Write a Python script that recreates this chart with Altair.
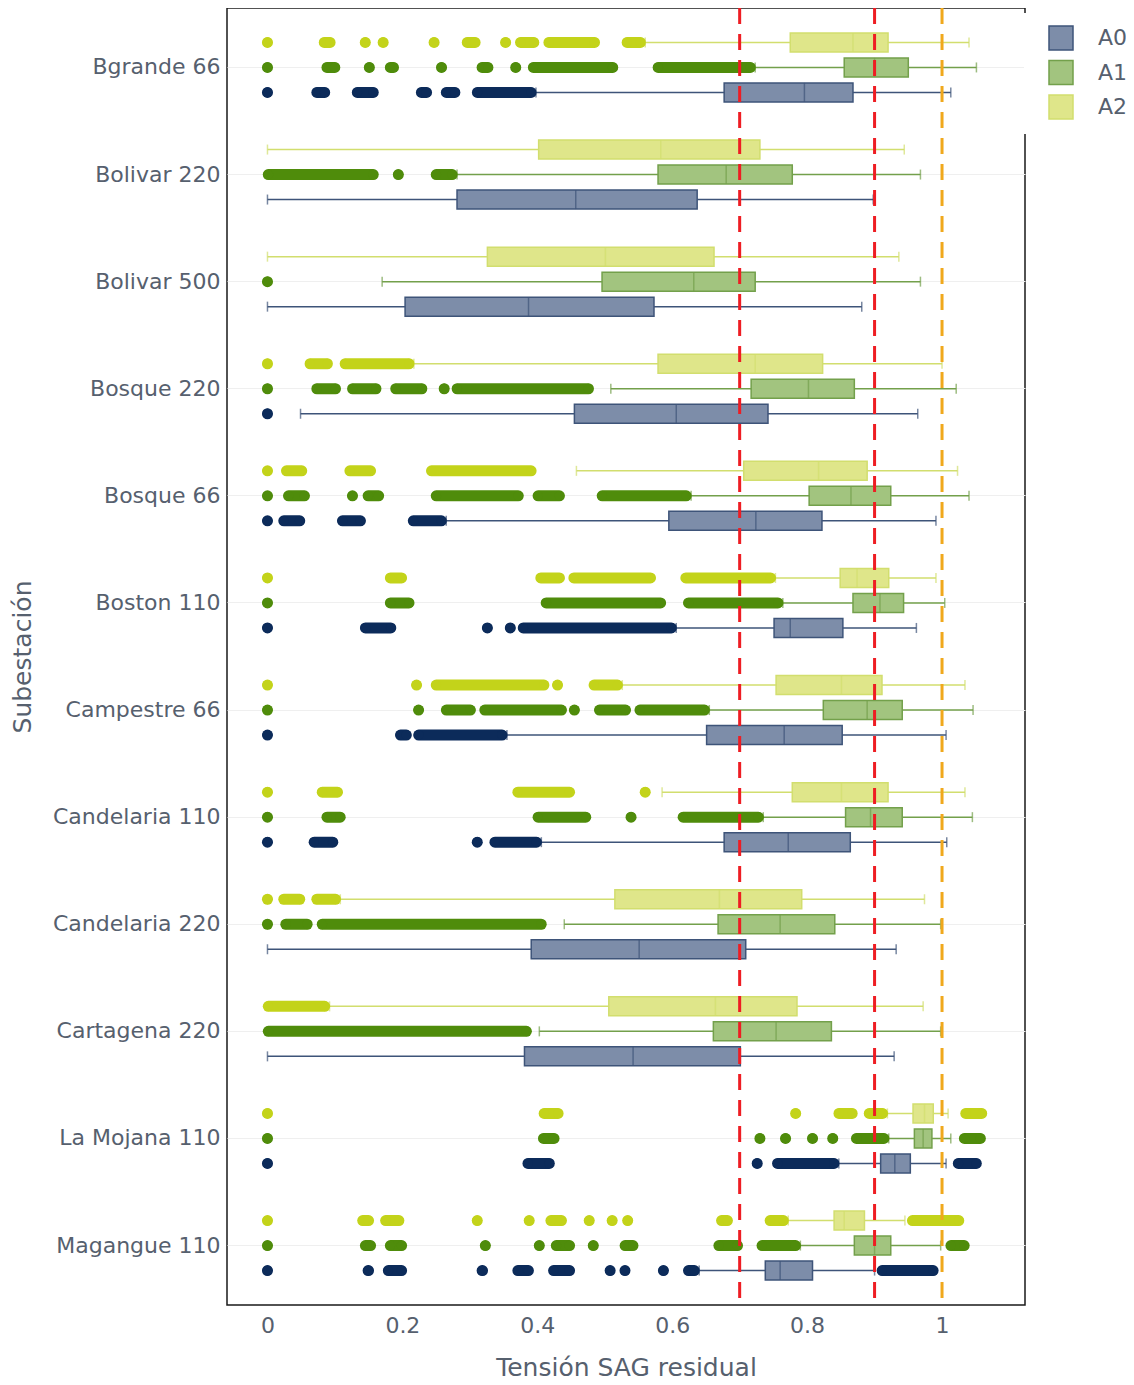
import altair as alt
import pandas as pd

SUBS = ["Bgrande 66", "Bolivar 220", "Bolivar 500", "Bosque 220", "Bosque 66",
        "Boston 110", "Campestre 66", "Candelaria 110", "Candelaria 220",
        "Cartagena 220", "La Mojana 110", "Magangue 110"]
SERIES = ["A0", "A1", "A2"]

# box statistics per substation (lower whisker, q1, median, q3, upper whisker)
A2_LO = [0.560, 0.000, 0.000, 0.217, 0.458, 0.753, 0.526, 0.585, 0.108, 0.092, 0.919, 0.772]
A2_Q1 = [0.775, 0.402, 0.326, 0.579, 0.706, 0.849, 0.754, 0.778, 0.515, 0.506, 0.957, 0.840]
A2_MED = [0.868, 0.583, 0.501, 0.723, 0.817, 0.874, 0.851, 0.851, 0.670, 0.664, 0.974, 0.855]
A2_Q3 = [0.920, 0.730, 0.662, 0.823, 0.889, 0.921, 0.911, 0.920, 0.792, 0.785, 0.987, 0.885]
A2_HI = [1.040, 0.944, 0.936, 1.000, 1.023, 0.991, 1.034, 1.034, 0.974, 0.972, 1.009, 0.945]

A1_LO = [0.723, 0.281, 0.170, 0.509, 0.628, 0.764, 0.655, 0.735, 0.440, 0.403, 0.921, 0.790]
A1_Q1 = [0.855, 0.579, 0.496, 0.717, 0.803, 0.868, 0.824, 0.857, 0.668, 0.661, 0.959, 0.870]
A1_MED = [0.900, 0.680, 0.632, 0.802, 0.865, 0.908, 0.889, 0.894, 0.760, 0.754, 0.972, 0.900]
A1_Q3 = [0.950, 0.778, 0.723, 0.870, 0.924, 0.943, 0.941, 0.941, 0.841, 0.836, 0.985, 0.924]
A1_HI = [1.051, 0.968, 0.968, 1.021, 1.040, 1.004, 1.046, 1.045, 0.998, 0.998, 1.013, 0.998]

A0_LO = [0.398, 0.000, 0.000, 0.049, 0.265, 0.606, 0.355, 0.406, 0.000, 0.000, 0.847, 0.640]
A0_Q1 = [0.677, 0.281, 0.204, 0.455, 0.595, 0.751, 0.651, 0.677, 0.391, 0.381, 0.909, 0.738]
A0_MED = [0.796, 0.457, 0.387, 0.606, 0.724, 0.775, 0.766, 0.772, 0.551, 0.542, 0.930, 0.760]
A0_Q3 = [0.868, 0.637, 0.573, 0.742, 0.822, 0.853, 0.852, 0.864, 0.709, 0.701, 0.953, 0.808]
A0_HI = [1.013, 0.898, 0.881, 0.964, 0.991, 0.962, 1.006, 1.007, 0.932, 0.929, 1.006, 0.900]

# outlier runs (first, last value of each run of overlapping points), per substation
A2_OUT = [
    [(0, 0), (0.077, 0.100), (0.145, 0.145), (0.165, 0.178), (0.247, 0.247), (0.289, 0.315),
     (0.353, 0.353), (0.368, 0.402), (0.410, 0.492), (0.526, 0.560)],
    [],
    [],
    [(0, 0), (0.056, 0.096), (0.108, 0.217)],
    [(0, 0), (0.021, 0.058), (0.115, 0.160), (0.236, 0.398)],
    [(0, 0), (0.175, 0.206), (0.398, 0.440), (0.447, 0.575), (0.613, 0.753)],
    [(0, 0), (0.221, 0.221), (0.243, 0.417), (0.430, 0.430), (0.477, 0.526)],
    [(0, 0), (0.074, 0.111), (0.364, 0.455), (0.560, 0.560)],
    [(0, 0), (0.017, 0.055), (0.066, 0.108)],
    [(-0.006, 0.092)],
    [(0, 0), (0.403, 0.438), (0.783, 0.783), (0.840, 0.874), (0.885, 0.919), (1.028, 1.066)],
    [(0, 0), (0.134, 0.157), (0.168, 0.202), (0.311, 0.311), (0.388, 0.388), (0.413, 0.443),
     (0.477, 0.477), (0.511, 0.511), (0.534, 0.534), (0.666, 0.689), (0.738, 0.772), (0.949, 1.032)],
]
A1_OUT = [
    [(0, 0), (0.081, 0.107), (0.151, 0.151), (0.175, 0.194), (0.258, 0.258), (0.311, 0.334),
     (0.368, 0.368), (0.387, 0.519), (0.572, 0.723)],
    [(-0.006, 0.164), (0.194, 0.194), (0.243, 0.281)],
    [(0, 0)],
    [(0, 0), (0.066, 0.108), (0.119, 0.168), (0.183, 0.236), (0.262, 0.262), (0.274, 0.483)],
    [(0, 0), (0.024, 0.062), (0.126, 0.126), (0.142, 0.172), (0.243, 0.379), (0.394, 0.440), (0.489, 0.628)],
    [(0, 0), (0.175, 0.217), (0.406, 0.590), (0.617, 0.764)],
    [(0, 0), (0.224, 0.224), (0.258, 0.308), (0.315, 0.443), (0.455, 0.455), (0.485, 0.538), (0.545, 0.655)],
    [(0, 0), (0.081, 0.115), (0.394, 0.479), (0.539, 0.539), (0.609, 0.735)],
    [(0, 0), (0.020, 0.066), (0.074, 0.413)],
    [(-0.006, 0.391)],
    [(0, 0), (0.402, 0.432), (0.730, 0.730), (0.768, 0.768), (0.808, 0.808), (0.838, 0.838),
     (0.866, 0.921), (1.026, 1.064)],
    [(0, 0), (0.138, 0.160), (0.175, 0.206), (0.323, 0.323), (0.403, 0.403), (0.421, 0.455),
     (0.483, 0.483), (0.523, 0.549), (0.662, 0.704), (0.726, 0.790), (1.006, 1.040)],
]
A0_OUT = [
    [(0, 0), (0.066, 0.092), (0.126, 0.164), (0.221, 0.243), (0.258, 0.285), (0.304, 0.398)],
    [],
    [],
    [(0, 0)],
    [(0, 0), (0.017, 0.055), (0.104, 0.145), (0.209, 0.265)],
    [(0, 0), (0.138, 0.190), (0.326, 0.326), (0.360, 0.360), (0.372, 0.606)],
    [(0, 0), (0.190, 0.213), (0.217, 0.355)],
    [(0, 0), (0.062, 0.104), (0.311, 0.311), (0.330, 0.406)],
    [],
    [],
    [(0, 0), (0.379, 0.425), (0.726, 0.726), (0.749, 0.847), (1.017, 1.058)],
    [(0, 0), (0.142, 0.157), (0.172, 0.206), (0.311, 0.326), (0.364, 0.394), (0.417, 0.455),
     (0.508, 0.508), (0.530, 0.530), (0.587, 0.587), (0.617, 0.640), (0.904, 0.994)],
]

REF_VALUES = [0.7, 0.9, 1.0]
REF_COLORS = ["#ee1d23", "#ee1d23", "#f0a81c"]
X_TICKS = [0, 0.2, 0.4, 0.6, 0.8, 1.0]

DOT = {"A0": "#0c2b5a", "A1": "#4f8c0b", "A2": "#c3d31a"}
FILL = {"A0": "#7d8da9", "A1": "#a2c47f", "A2": "#dfe68a"}
LINE = {"A0": "#3e5479", "A1": "#73a04b", "A2": "#d2de6e"}

STATS = {"A0": (A0_LO, A0_Q1, A0_MED, A0_Q3, A0_HI),
         "A1": (A1_LO, A1_Q1, A1_MED, A1_Q3, A1_HI),
         "A2": (A2_LO, A2_Q1, A2_MED, A2_Q3, A2_HI)}
OUTS = {"A0": A0_OUT, "A1": A1_OUT, "A2": A2_OUT}

rows = []
orows = []
R = 0.0072  # half a marker width in data units
for s in SERIES:
    lo, q1, med, q3, hi = STATS[s]
    for i, sub in enumerate(SUBS):
        rows.append(dict(sub=sub, series=s, lo=lo[i], q1=q1[i], med=med[i], q3=q3[i],
                         hi=hi[i], line=LINE[s]))
        for a, b in OUTS[s][i]:
            if b - a > 2 * R:
                c0, c1 = a + R, b - R
            else:
                c0 = c1 = (a + b) / 2
            orows.append(dict(sub=sub, series=s, c0=c0, c1=c1, dot=DOT[s]))
box_df = pd.DataFrame(rows)
out_df = pd.DataFrame(orows)
ref_df = pd.DataFrame({"v": REF_VALUES, "c": REF_COLORS})

FONT = "DejaVu Sans"
TXT = "#56606e"

x_scale = alt.Scale(domain=[-0.06, 1.123], nice=False, zero=False)
x_axis = alt.Axis(values=X_TICKS, format=".1~f", title="Tensión SAG residual", grid=False,
                  ticks=False, domain=False, labelFontSize=22, titleFontSize=25,
                  labelPadding=10, titlePadding=19, labelColor=TXT, titleColor=TXT,
                  labelFont=FONT, titleFont=FONT, titleFontWeight="normal")
y_axis = alt.Axis(title="Subestación", ticks=False, domain=False, labelFontSize=22,
                  titleFontSize=25, labelPadding=7, titlePadding=17, labelColor=TXT,
                  titleColor=TXT, labelFont=FONT, titleFont=FONT, titleFontWeight="normal",
                  grid=True, gridColor="#efefef", gridWidth=1, bandPosition=0.5)

Y = alt.Y("sub:N", sort=SUBS, scale=alt.Scale(paddingInner=0, paddingOuter=0.055), axis=y_axis)
YO = alt.YOffset("series:N", sort=["A2", "A1", "A0"],
                 scale=alt.Scale(domain=["A2", "A1", "A0"], paddingInner=0.24, paddingOuter=0.762))


def X(field):
    return alt.X(field, scale=x_scale, axis=x_axis)


whisker = alt.Chart(box_df).mark_rule(strokeWidth=1.5).encode(
    x=X("lo:Q"), x2="hi:Q", y=Y, yOffset=YO, color=alt.Color("line:N", scale=None))
cap_lo = alt.Chart(box_df).mark_tick(size=10, thickness=1.5).encode(
    x=X("lo:Q"), y=Y, yOffset=YO, color=alt.Color("line:N", scale=None))
cap_hi = alt.Chart(box_df).mark_tick(size=10, thickness=1.5).encode(
    x=X("hi:Q"), y=Y, yOffset=YO, color=alt.Color("line:N", scale=None))

legend = alt.Legend(title=None, orient="none", legendX=797, legendY=5, fillColor="white",
                    padding=12, symbolOffset=12, symbolType="square", symbolSize=576,
                    symbolStrokeWidth=1.5, labelFontSize=22, labelFont=FONT, labelColor=TXT,
                    rowPadding=4.5, labelOffset=24)
box = alt.Chart(box_df).mark_bar(strokeWidth=1.5).encode(
    x=X("q1:Q"), x2="q3:Q", y=Y, yOffset=YO,
    fill=alt.Fill("series:N", scale=alt.Scale(domain=SERIES, range=[FILL[s] for s in SERIES]),
                  legend=legend),
    stroke=alt.Stroke("series:N", scale=alt.Scale(domain=SERIES, range=[LINE[s] for s in SERIES]),
                      legend=legend))
median = alt.Chart(box_df).mark_tick(size=19, thickness=1.5).encode(
    x=X("med:Q"), y=Y, yOffset=YO, color=alt.Color("line:N", scale=None))

out_run = alt.Chart(out_df).mark_rule(strokeWidth=11, strokeCap="round").encode(
    x=X("c0:Q"), x2="c1:Q", y=Y, yOffset=YO, color=alt.Color("dot:N", scale=None))
out_a = alt.Chart(out_df).mark_circle(size=95, opacity=1).encode(
    x=X("c0:Q"), y=Y, yOffset=YO, color=alt.Color("dot:N", scale=None))
out_b = alt.Chart(out_df).mark_circle(size=95, opacity=1).encode(
    x=X("c1:Q"), y=Y, yOffset=YO, color=alt.Color("dot:N", scale=None))

refs = alt.Chart(ref_df).mark_rule(strokeWidth=3, strokeDash=[16, 10]).encode(
    x=X("v:Q"), color=alt.Color("c:N", scale=None))

chart = alt.layer(whisker, cap_lo, cap_hi, box, median, out_run, out_a, out_b, refs).properties(
    width=798, height=1297,
    padding={"left": 219, "top": 0, "right": 101, "bottom": 77},
    autosize=alt.AutoSizeParams(type="none"),
    background="white",
).configure_view(stroke="#1a1a1a", strokeWidth=1.5)

chart.save("out.html", embed_options={"renderer": "svg", "actions": False})
